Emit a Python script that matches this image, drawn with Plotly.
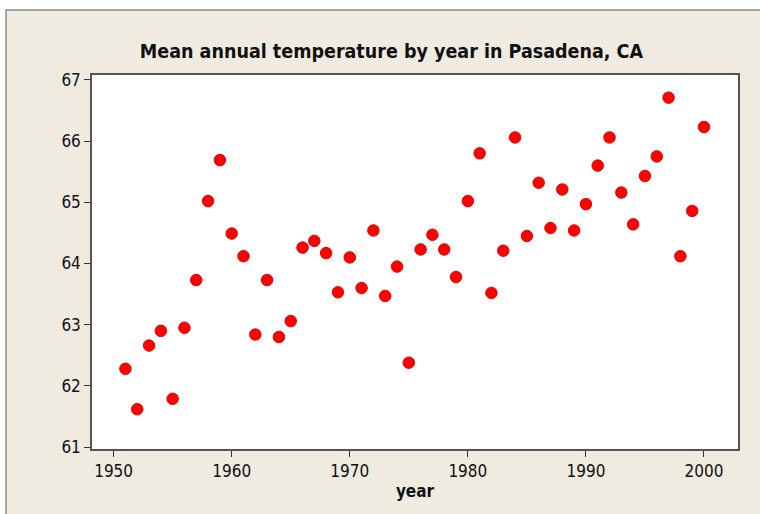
import plotly.graph_objects as go

years = list(range(1951, 2001))
temps = [62.28, 61.62, 62.66, 62.90, 61.79, 62.95, 63.73, 65.02, 65.69, 64.49,
         64.12, 62.84, 63.73, 62.80, 63.06, 64.26, 64.37, 64.17, 63.53, 64.10,
         63.60, 64.54, 63.47, 63.95, 62.38, 64.23, 64.47, 64.23, 63.78, 65.02,
         65.80, 63.52, 64.21, 66.06, 64.45, 65.32, 64.58, 65.21, 64.54, 64.97,
         65.60, 66.06, 65.16, 64.64, 65.43, 65.75, 66.71, 64.12, 64.86, 66.23]

title_text = "Mean annual temperature by year in Pasadena, CA"
x_title = "year"
x_ticks = [1950, 1960, 1970, 1980, 1990, 2000]
y_ticks = [61, 62, 63, 64, 65, 66, 67]

beige = "#EFEBE0"
font_family = "DejaVu Sans Condensed, DejaVu Sans, sans-serif"

fig = go.Figure()
fig.add_trace(go.Scatter(
    x=years, y=temps, mode="markers",
    marker=dict(size=11.5, color="#FF0000", line=dict(width=1, color="#E80000")),
    hoverinfo="x+y", showlegend=False,
))

fig.update_layout(
    width=760, height=514,
    margin=dict(l=92, r=22, t=75, b=65),
    paper_bgcolor="white",
    plot_bgcolor="white",
    title=dict(text=f"<b>{title_text}</b>", x=0.515, xanchor="center",
               y=1 - 51 / 514, yanchor="middle",
               font=dict(family=font_family, size=19.5, color="#111")),
    font=dict(family=font_family, size=17, color="#111"),
    shapes=[
        dict(type="rect", xref="paper", yref="paper", layer="below",
             x0=(6 - 92) / 646, x1=(775 - 92) / 646,
             y0=(449 - 530) / 374, y1=(449 - 10) / 374,
             fillcolor=beige, line=dict(color="#8a8a8a", width=1.5)),
        dict(type="rect", xref="paper", yref="paper", layer="below",
             x0=0, x1=1, y0=0, y1=1, fillcolor="white", line=dict(width=0)),
    ],
)

fig.update_xaxes(
    range=[1948.17, 2002.88], tickvals=x_ticks, ticktext=[str(t) for t in x_ticks],
    ticks="outside", ticklen=6, tickcolor="#333", showgrid=False, zeroline=False,
    showline=True, linecolor="#555", linewidth=1.5, mirror=True,
    tickfont=dict(size=17, color="#111"),
    title=dict(text=f"<b>{x_title}</b>", font=dict(size=17, color="#111"), standoff=5),
)
fig.update_yaxes(
    range=[60.97, 67.08], tickvals=y_ticks, ticktext=[str(t) for t in y_ticks],
    ticks="outside", ticklen=6, tickcolor="#333", showgrid=False, zeroline=False,
    showline=True, linecolor="#555", linewidth=1.5, mirror=True,
    tickfont=dict(size=17, color="#111"),
)

fig.write_html("out.html", config={"displayModeBar": False},
               post_script="document.body.style.margin='0';")
